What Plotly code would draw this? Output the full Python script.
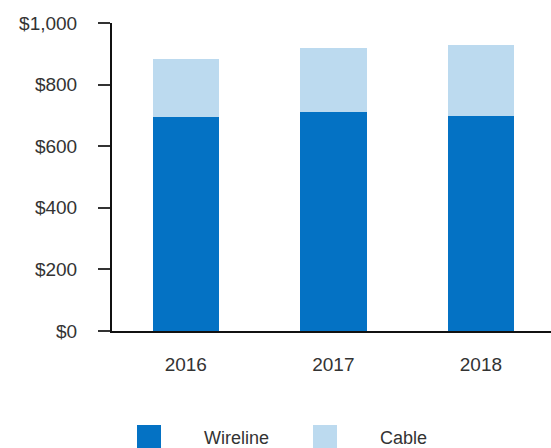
import plotly.graph_objects as go

years = ["2016", "2017", "2018"]
wireline = [696, 712, 698]
cable = [186, 208, 231]
y_ticks = [0, 200, 400, 600, 800, 1000]
y_tick_labels = ["$0", "$200", "$400", "$600", "$800", "$1,000"]

DARK = "#0472C4"
LIGHT = "#BCDAEF"
FONT = dict(family="Liberation Sans, Arial, sans-serif", size=19, color="#333333")

fig = go.Figure()
fig.add_bar(x=years, y=wireline, name="Wireline", marker=dict(color=DARK, line_width=0))
fig.add_bar(x=years, y=cable, name="Cable", marker=dict(color=LIGHT, line_width=0))

fig.update_layout(
    barmode="stack",
    bargap=0.55,
    width=551,
    height=448,
    margin=dict(l=112, r=0, t=23, b=117),
    paper_bgcolor="white",
    plot_bgcolor="white",
    showlegend=False,
    font=FONT,
)
fig.update_xaxes(
    type="category",
    range=[-0.5, 2.475],
    showline=True,
    linecolor="#111111",
    linewidth=2,
    ticks="",
    showgrid=False,
    ticklabelstandoff=15,
    tickfont=FONT,
)
fig.update_yaxes(
    range=[0, 1000],
    tickvals=y_ticks,
    ticktext=y_tick_labels,
    showline=True,
    linecolor="#111111",
    linewidth=2,
    ticks="outside",
    ticklen=12,
    tickwidth=1.5,
    tickcolor="#333333",
    showgrid=False,
    zeroline=False,
    ticklabelstandoff=17,
    tickfont=FONT,
)

# Legend drawn as swatches with labels below the plot
legend_items = [("Wireline", DARK, 137, 202), ("Cable", LIGHT, 313, 378)]
plot_w = 551 - 112
plot_h = 448 - 23 - 117
for name, color, sx, tx in legend_items:
    x0 = (sx - 112) / plot_w
    x1 = (sx + 24 - 112) / plot_w
    y0 = (331 - 448) / plot_h
    y1 = (331 - 425) / plot_h
    fig.add_shape(type="rect", xref="paper", yref="paper", x0=x0, x1=x1, y0=y0, y1=y1,
                  fillcolor=color, line_width=0, layer="above")
    fig.add_annotation(x=(tx - 112) / plot_w, y=(331 - 438) / plot_h, xref="paper", yref="paper",
                       text=name, showarrow=False, xanchor="left", yanchor="middle",
                       font=dict(family=FONT["family"], size=18, color="#333333"))

fig.write_html("out.html")
